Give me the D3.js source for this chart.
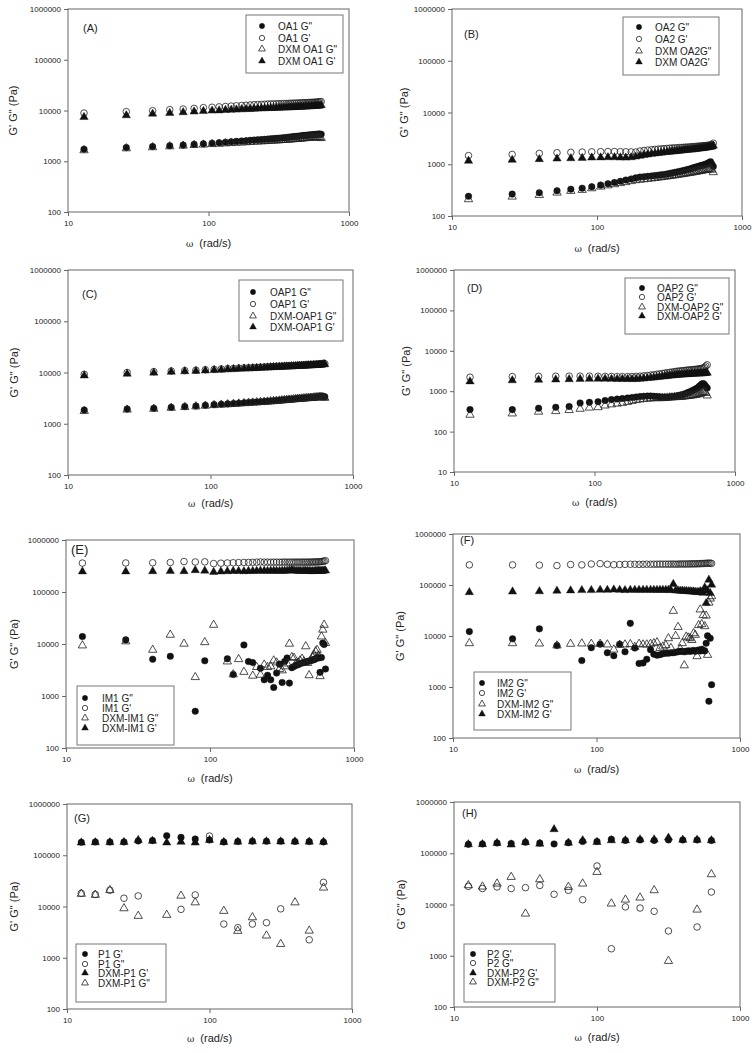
<!DOCTYPE html>
<html><head><meta charset="utf-8">
<script src="https://cdn.jsdelivr.net/npm/d3@7"></script>
<style>
body{margin:0;background:#fff}
svg{display:block}
text{font-family:"Liberation Sans",Arial,sans-serif;fill:#222}
</style>
</head><body>
<svg id="c" width="755" height="1053"></svg>
<script>
// ---------- DATA ----------
const omega = [13,26,40,53,66,79,92,106,119,132,145,158,172,185,198,211,224,238,251,264,277,290,304,317,330,343,356,370,383,396,409,422,436,449,462,475,488,502,515,528,541,554,568,581,594,607,620,634];
const omegaP = [12.6,15.8,20,25.1,31.6,39.8,50.1,63.1,79.4,100,126,158,200,251,316,398,501,631];
const xTicks = [10,100,1000];
const yTicks4 = [100,1000,10000,100000,1000000];
const yTicks5 = [10,100,1000,10000,100000,1000000];

// Panel A
const OA1_Gpp = [1730,1860,1950,2020,2080,2150,2200,2270,2320,2370,2420,2460,2500,2540,2580,2610,2640,2670,2700,2730,2760,2790,2820,2850,2880,2910,2940,2970,3000,3030,3060,3090,3120,3150,3180,3200,3230,3260,3280,3300,3320,3340,3360,3380,3400,3420,3430,3400];
const OA1_Gp = [8900,9500,9900,10400,10700,11000,11400,11600,11800,12000,12200,12400,12550,12700,12850,13000,13100,13200,13300,13400,13450,13500,13550,13600,13650,13700,13750,13800,13850,13900,13950,14000,14050,14100,14150,14200,14250,14300,14350,14400,14450,14500,14550,14600,14700,14750,14850,15000];
const DXM_OA1_Gpp = [1640,1790,1880,1960,2020,2080,2120,2170,2200,2240,2270,2300,2330,2360,2390,2420,2440,2460,2480,2500,2520,2540,2560,2580,2600,2620,2640,2660,2680,2700,2720,2740,2760,2780,2800,2820,2840,2860,2880,2900,2920,2940,2950,2960,2970,2960,2900,2850];
const DXM_OA1_Gp = [7400,8000,8600,8900,9200,9500,9700,9900,10000,10200,10300,10400,10500,10600,10700,10800,10900,11000,11050,11100,11150,11200,11250,11300,11350,11400,11450,11500,11550,11600,11650,11700,11750,11800,11850,11900,11950,12000,12050,12100,12150,12200,12250,12300,12350,12400,12500,12700];

// Panel B
const OA2_Gpp = [240,265,282,308,330,345,368,395,420,445,470,495,520,545,565,575,585,595,605,615,625,635,650,665,680,695,710,725,740,755,770,790,810,830,850,870,890,910,930,950,970,990,1010,1040,1080,1120,1000,900];
const OA2_Gp = [1470,1550,1620,1670,1700,1720,1740,1750,1760,1760,1750,1740,1730,1720,1800,1850,1880,1910,1940,1960,1980,2000,2020,2040,2060,2070,2080,2100,2110,2120,2140,2150,2160,2180,2190,2200,2220,2230,2250,2260,2280,2290,2300,2320,2340,2360,2400,2550];
const DXM_OA2_Gpp = [210,236,254,282,304,318,342,368,390,410,430,450,470,490,500,510,520,530,540,550,560,570,580,590,600,610,620,630,640,650,660,670,680,690,700,710,720,730,740,750,760,770,780,790,800,820,780,700];
const DXM_OA2_Gp = [1160,1210,1250,1280,1300,1320,1340,1350,1360,1360,1350,1340,1360,1400,1450,1500,1540,1580,1610,1640,1670,1700,1720,1740,1760,1780,1800,1820,1840,1860,1880,1900,1910,1920,1940,1960,1980,2000,2020,2040,2060,2080,2100,2120,2140,2160,2200,2280];

// Panel C
const OAP1_Gpp = [1850,1940,2000,2090,2160,2220,2290,2360,2400,2440,2480,2520,2560,2600,2630,2660,2690,2720,2750,2780,2810,2840,2870,2900,2930,2960,2990,3010,3040,3070,3100,3120,3140,3160,3180,3200,3220,3240,3260,3280,3300,3320,3340,3360,3380,3400,3380,3350];
const OAP1_Gp = [9200,10000,10400,10700,10900,11100,11300,11500,11700,11900,12000,12200,12300,12400,12500,12600,12700,12800,12900,13000,13100,13200,13250,13300,13400,13450,13500,13600,13650,13700,13800,13850,13900,13950,14000,14100,14150,14200,14250,14300,14350,14400,14500,14550,14600,14700,14800,14900];
const DXM_OAP1_Gpp = [1770,1880,1950,2040,2110,2170,2240,2300,2350,2390,2430,2470,2510,2550,2580,2610,2640,2670,2700,2730,2760,2790,2820,2850,2880,2910,2940,2960,2990,3020,3050,3070,3090,3110,3130,3150,3170,3190,3210,3230,3250,3270,3290,3300,3310,3300,3250,3200];
const DXM_OAP1_Gp = [8700,9400,9900,10300,10500,10700,10900,11100,11300,11500,11600,11800,11900,12000,12100,12200,12300,12400,12500,12600,12700,12800,12850,12900,13000,13050,13100,13200,13250,13300,13400,13450,13500,13550,13600,13700,13750,13800,13850,13900,13950,14000,14100,14150,14200,14300,14400,14500];

// Panel D
const OAP2_Gpp = [350,350,380,400,420,510,530,550,590,620,640,660,680,700,720,740,750,760,760,750,740,730,720,710,710,720,730,740,760,780,800,820,850,880,920,960,1000,1050,1100,1150,1200,1300,1400,1500,1550,1450,1300,1200];
const OAP2_Gp = [2220,2300,2330,2350,2360,2360,2350,2340,2330,2320,2310,2300,2300,2310,2330,2360,2400,2450,2500,2560,2620,2680,2740,2800,2860,2920,2980,3040,3100,3140,3180,3220,3260,3300,3330,3360,3390,3420,3450,3480,3520,3560,3600,3650,3750,3900,4200,4500];
const DXM_OAP2_Gpp = [260,280,310,320,340,365,390,400,440,470,490,510,540,570,600,620,640,650,660,670,670,670,670,680,690,700,700,710,710,720,720,730,740,750,760,770,780,790,800,810,830,850,870,900,940,960,900,780];
const DXM_OAP2_Gp = [1740,1850,1900,1940,1970,2000,2010,2020,2020,2010,2000,2000,1990,1980,2000,2030,2060,2100,2140,2180,2220,2260,2300,2340,2380,2420,2450,2480,2510,2540,2560,2580,2600,2620,2640,2660,2680,2700,2710,2720,2730,2740,2750,2760,2780,2800,2820,2850];

// Panel E
const IM1_Gpp = [13900,12000,5100,5800,null,510,4750,null,null,5200,2600,null,9600,4600,4400,null,3400,2050,2500,2050,1460,2760,4100,1820,4600,5400,1770,3500,3700,3900,4000,4200,4300,4400,4500,4600,4700,4800,4900,5000,5200,5500,5400,2850,5500,10400,9800,3300];
const IM1_Gp = [360000,362000,365000,370000,385000,378000,380000,352000,358000,362000,365000,368000,370000,370000,372000,375000,378000,375000,375000,374000,375000,375000,374000,375000,376000,375000,375000,376000,375000,375000,376000,375000,375000,376000,375000,375000,376000,376000,377000,378000,378000,380000,380000,382000,385000,388000,392000,400000];
const DXM_IM1_Gpp = [9350,11200,7700,15000,10100,2300,10800,23300,null,4600,2600,5100,2900,null,2450,3600,2550,4000,3600,3700,4800,4400,3300,3100,3700,4200,10100,5600,5400,4200,4400,4800,5200,4600,9000,4300,2500,5000,5600,6200,7200,7700,6000,2400,13900,18800,23300,10400];
const DXM_IM1_Gp = [248000,248000,250000,252000,250000,262000,256000,242000,248000,250000,252000,252000,250000,252000,253000,254000,255000,255000,254000,255000,255000,255000,254000,255000,255000,256000,262000,268000,258000,256000,255000,255000,254000,255000,255000,254000,253000,252000,250000,252000,254000,255000,256000,255000,252000,256000,258000,258000];

// Panel F
const IM2_Gpp = [12200,8800,13800,6500,null,3300,5900,6900,4700,4100,6900,4900,17700,5800,2900,2950,3500,5400,4400,4200,4300,4500,4600,4600,4700,4700,4800,4900,5000,5000,4900,5000,5100,5000,5100,5200,5000,5200,5300,5100,5500,5200,5100,7200,10100,525,9000,1110];
const IM2_Gp = [248000,248000,245000,240000,252000,248000,258000,262000,255000,250000,252000,254000,255000,255000,254000,255000,256000,255000,256000,256000,257000,256000,257000,256000,257000,257000,256000,257000,258000,258000,258000,258000,259000,259000,260000,260000,260000,261000,262000,262000,263000,264000,265000,266000,267000,268000,268000,265000];
const DXM_IM2_Gpp = [7200,7200,7100,6500,7000,7100,7000,7000,6800,5400,6700,6800,6900,6100,7000,6800,6800,7000,7200,7500,5800,6200,6600,9000,5800,31000,10000,15000,5600,7200,2650,9700,9300,9000,8300,11300,10500,4000,16300,33000,17000,25500,15500,25000,4250,45000,54000,60000];
const DXM_IM2_Gp = [72000,74000,75000,77000,78000,79000,79000,80000,80000,81000,80000,79000,80000,80000,80000,80000,80000,80000,80000,80000,80000,80000,80000,80000,79000,104000,78000,78000,77000,77000,76000,76000,75000,75000,74000,74000,73000,73000,72000,75000,72000,70000,89000,44000,78000,126000,69000,101000];

// Panel G
const P1_Gp = [179000,182000,182000,182000,190000,193000,241000,223000,208000,198000,182000,185000,188000,188000,187000,186000,185000,182000];
const P1_Gpp = [18100,17200,20800,14500,16100,null,null,8800,16800,237000,4540,3860,4540,4830,9000,null,2240,29600];
const DXM_P1_Gp = [176000,178000,178000,180000,198000,190000,176000,182000,176000,198000,180000,183000,186000,186000,185000,184000,183000,182000];
const DXM_P1_Gpp = [17600,16800,20800,9200,6530,null,6840,16200,12000,null,8170,3330,6140,2700,1850,12000,3370,23300];

// Panel H
const P2_Gp = [149000,152000,158000,155000,164000,158000,152000,160000,170000,170000,187000,178000,182000,178000,182000,182000,182000,178000];
const P2_Gpp = [22600,20500,22000,20500,21300,23500,15800,18900,12400,56400,1370,9000,8530,7360,3040,null,3640,17500];
const DXM_P2_Gp = [149000,150000,158000,147000,164000,152000,293000,160000,178000,165000,178000,178000,186000,186000,201000,182000,182000,178000];
const DXM_P2_Gpp = [23700,22300,25500,34400,6620,31000,null,22000,25500,43000,10400,12400,13600,18900,790,null,7920,38800];

// ---------- LAYOUT ----------
const FC="fc", OC="oc", FT="ft", OT="ot";
const panels = [
 {L:68,R:349,T:9,B:212,yMin:100,yt:yTicks4,lab:"(A)",lx:83,ly:32,lfs:11,ytx:17,xtb:247,
  leg:{x0:246,y0:15,x1:343,y1:73,sx:262,tx:278,rows:[26,38,49,61]},
  xs:omega,series:[[OA1_Gpp,FC,'OA1 G"'],[OA1_Gp,OC,"OA1 G'"],[DXM_OA1_Gpp,OT,'DXM OA1 G"'],[DXM_OA1_Gp,FT,"DXM OA1 G'"]]},
 {L:452,R:742,T:9,B:216,yMin:100,yt:yTicks4,lab:"(B)",lx:464,ly:38,lfs:11,ytx:408,xtb:252,
  leg:{x0:623,y0:17,x1:719,y1:75,sx:639,tx:655,rows:[27,39,51,62]},
  xs:omega,series:[[OA2_Gpp,FC,'OA2 G"'],[OA2_Gp,OC,"OA2 G'"],[DXM_OA2_Gpp,OT,'DXM OA2G"'],[DXM_OA2_Gp,FT,"DXM OA2G'"]]},
 {L:68,R:353,T:270,B:475,yMin:100,yt:yTicks4,lab:"(C)",lx:82,ly:298,lfs:11,ytx:18,xtb:507,
  leg:{x0:239,y0:280,x1:343,y1:341,sx:253,tx:270,rows:[292,304,316,327]},
  xs:omega,series:[[OAP1_Gpp,FC,'OAP1 G"'],[OAP1_Gp,OC,"OAP1 G'"],[DXM_OAP1_Gpp,OT,'DXM-OAP1 G"'],[DXM_OAP1_Gp,FT,"DXM-OAP1 G'"]]},
 {L:454,R:735,T:270,B:472,yMin:10,yt:yTicks5,lab:"(D)",lx:467,ly:292,lfs:11,ytx:410,xtb:506,
  leg:{x0:625,y0:278,x1:729,y1:334,sx:642,tx:657,rows:[288,297,307,316]},
  xs:omega,series:[[OAP2_Gpp,FC,'OAP2  G"'],[OAP2_Gp,OC,"OAP2 G'"],[DXM_OAP2_Gpp,OT,'DXM-OAP2 G"'],[DXM_OAP2_Gp,FT,"DXM-OAP2 G'"]]},
 {L:66,R:354,T:540,B:748,yMin:100,yt:yTicks4,lab:"(E)",lx:71,ly:554,lfs:13,ytx:18,xtb:782,
  leg:{x0:77,y0:686,x1:174,y1:745,sx:85,tx:102,rows:[698,708,718,728]},
  xs:omega,series:[[IM1_Gpp,FC,'IM1 G"'],[IM1_Gp,OC,"IM1 G'"],[DXM_IM1_Gpp,OT,'DXM-IM1 G"'],[DXM_IM1_Gp,FT,"DXM-IM1 G'"]]},
 {L:453,R:740,T:534,B:738,yMin:100,yt:yTicks4,lab:"(F)",lx:460,ly:544,lfs:11,ytx:404,xtb:773,
  leg:{x0:474,y0:672,x1:571,y1:730,sx:482,tx:497,rows:[683,693,704,714]},
  xs:omega,series:[[IM2_Gpp,FC,'IM2 G"'],[IM2_Gp,OC,"IM2 G'"],[DXM_IM2_Gpp,OT,'DXM-IM2 G"'],[DXM_IM2_Gp,FT,"DXM-IM2 G'"]]},
 {L:67,R:352,T:804,B:1009,yMin:100,yt:yTicks4,lab:"(G)",lx:74,ly:822,lfs:11,ytx:18,xtb:1042,
  leg:{x0:76,y0:944,x1:166,y1:1002,sx:85,tx:98,rows:[954,964,973,983]},
  xs:omegaP,series:[[P1_Gp,FC,"P1 G'"],[P1_Gpp,OC,'P1 G"'],[DXM_P1_Gp,FT,"DXM-P1 G'"],[DXM_P1_Gpp,OT,'DXM-P1 G"']]},
 {L:454,R:740,T:802,B:1007,yMin:100,yt:yTicks4,lab:"(H)",lx:462,ly:817,lfs:11,ytx:405,xtb:1041,
  leg:{x0:464,y0:944,x1:555,y1:1002,sx:473,tx:487,rows:[954,963,973,982]},
  xs:omegaP,series:[[P2_Gp,FC,"P2 G'"],[P2_Gpp,OC,'P2 G"'],[DXM_P2_Gp,FT,"DXM-P2 G'"],[DXM_P2_Gpp,OT,'DXM-P2 G"']]}
];

const svg = d3.select("#c");
const AX = "#666";

function symPath(type, big){
  const circ = type===FC||type===OC;
  const size = circ ? (big?34:22) : (big?30:20);
  return d3.symbol().type(circ?d3.symbolCircle:d3.symbolTriangle).size(size)();
}
function styleSym(sel,type){
  const filled = type===FC||type===FT;
  sel.attr("fill", filled?"#111":"none")
     .attr("stroke", filled?"#111":"#222")
     .attr("stroke-width", filled?0.4:0.8);
}

panels.forEach(p=>{
  const g = svg.append("g");
  const x = d3.scaleLog().domain([10,1000]).range([p.L,p.R]);
  const y = d3.scaleLog().domain([p.yMin,1000000]).range([p.B,p.T]);

  // axes
  const ya = g.append("g").attr("transform",`translate(${p.L},0)`)
    .call(d3.axisLeft(y).tickValues(p.yt).tickFormat(d=>String(d)).tickSize(4).tickSizeOuter(0).tickPadding(3));
  const xa = g.append("g").attr("transform",`translate(0,${p.B})`)
    .call(d3.axisBottom(x).tickValues(xTicks).tickFormat(d=>String(d)).tickSize(4).tickSizeOuter(0).tickPadding(4));
  [ya,xa].forEach(a=>{
    a.select(".domain").remove();
    a.selectAll("line").attr("stroke",AX);
    a.selectAll("text").attr("font-size","8px").attr("fill","#222")
     .attr("font-family",'"Liberation Sans",Arial,sans-serif');
  });
  // frame
  g.append("rect").attr("x",p.L).attr("y",p.T).attr("width",p.R-p.L).attr("height",p.B-p.T)
    .attr("fill","none").attr("stroke",AX).attr("stroke-width",1);

  // titles
  g.append("text").attr("transform",`translate(${p.ytx},${(p.T+p.B)/2}) rotate(-90)`)
    .attr("text-anchor","middle").attr("font-size","11px").text("G' G\" (Pa)");
  const xt = g.append("text").attr("x",(p.L+p.R)/2).attr("y",p.xtb).attr("text-anchor","middle").attr("font-size","11px");
  xt.append("tspan").attr("font-size","9px").attr("font-family","'DejaVu Serif',serif").text("ω");
  xt.append("tspan").text("\u00a0\u00a0(rad/s)");
  g.append("text").attr("x",p.lx).attr("y",p.ly).attr("font-size",p.lfs+"px").text(p.lab);

  // markers
  p.series.forEach(([vals,type])=>{
    const pts = vals.map((v,i)=>[p.xs[i],v]).filter(d=>d[1]!=null);
    const s = g.append("g").selectAll("path").data(pts).join("path")
      .attr("d",symPath(type,true))
      .attr("transform",d=>`translate(${x(d[0])},${y(d[1])})`);
    styleSym(s,type);
  });

  // legend
  const L = p.leg;
  g.append("rect").attr("x",L.x0).attr("y",L.y0).attr("width",L.x1-L.x0).attr("height",L.y1-L.y0)
    .attr("fill","#fff").attr("stroke","#777").attr("stroke-width",1);
  p.series.forEach(([vals,type,name],i)=>{
    const s = g.append("path").attr("d",symPath(type,false)).attr("transform",`translate(${L.sx},${L.rows[i]})`);
    styleSym(s,type);
    g.append("text").attr("x",L.tx).attr("y",L.rows[i]+3.5).attr("font-size","10px").text(name);
  });
});
</script>
</body></html>
